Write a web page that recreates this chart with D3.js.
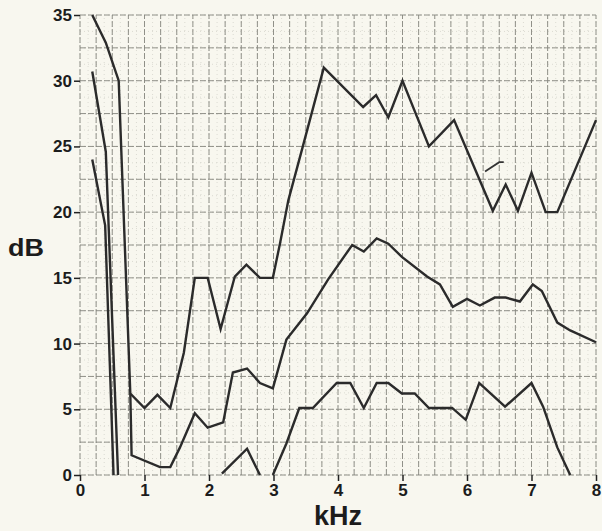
<!DOCTYPE html>
<html>
<meta charset="utf-8" />
<head>
<script src="https://cdnjs.cloudflare.com/ajax/libs/d3/7.8.5/d3.min.js"></script>
<style>
  body { margin: 0; background: #f8f7ef; }
  svg { display: block; }
</style>
</head>
<body>
<script>
// frequency (kHz) / level (dB)
const xTicks = [0, 1, 2, 3, 4, 5, 6, 7, 8];
const yTicks = [0, 5, 10, 15, 20, 25, 30, 35];

const topCurve = [
  [0.19, 35], [0.4, 32.9], [0.6, 30], [0.78, 6.2], [1.0, 5.1], [1.2, 6.1],
  [1.4, 5.1], [1.61, 9.3], [1.78, 15], [1.98, 15], [2.18, 11.1], [2.4, 15.1],
  [2.58, 16], [2.79, 15], [2.99, 15], [3.1, 17.6], [3.23, 20.9], [3.46, 25.1],
  [3.78, 31], [4.39, 28], [4.59, 28.9], [4.78, 27.2], [5.0, 30], [5.41, 25],
  [5.8, 27], [6.4, 20.1], [6.6, 22.1], [6.79, 20.1], [7.0, 23], [7.22, 20],
  [7.4, 20], [8.0, 27]
];

const midCurve = [
  [0.78, 6.2], [0.8, 1.5], [1.24, 0.6], [1.4, 0.6], [1.55, 2.1], [1.78, 4.7],
  [1.98, 3.6], [2.22, 4.0], [2.37, 7.8], [2.59, 8.1], [2.79, 7.0], [2.99, 6.6],
  [3.2, 10.3], [3.52, 12.3], [3.85, 14.9], [4.22, 17.5], [4.4, 17.0], [4.6, 18.0],
  [4.78, 17.6], [4.99, 16.6], [5.38, 15.1], [5.58, 14.5], [5.78, 12.8],
  [6.0, 13.4], [6.2, 12.9], [6.43, 13.5], [6.6, 13.5], [6.82, 13.2],
  [7.02, 14.5], [7.16, 14.0], [7.4, 11.6], [7.6, 11.0], [8.0, 10.1]
];

const lowCurveA = [[2.2, 0.1], [2.59, 2.0], [2.79, 0]];
const lowCurveB = [
  [2.99, 0], [3.2, 2.4], [3.4, 5.1], [3.61, 5.1], [3.98, 7.0], [4.19, 7.0],
  [4.4, 5.1], [4.6, 7.0], [4.78, 7.0], [4.99, 6.2], [5.19, 6.2], [5.41, 5.1],
  [5.77, 5.1], [5.98, 4.2], [6.19, 7.0], [6.59, 5.2], [7.0, 7.0], [7.18, 5.2],
  [7.4, 2.1], [7.6, 0]
];

const dropB = [[0.19, 30.7], [0.4, 24.6], [0.59, 0]];
const dropC = [[0.19, 24.0], [0.39, 19.0], [0.52, 0]];
const stray = [[6.28, 23.1], [6.5, 23.8], [6.57, 23.8]];

const width = 602, height = 531;
const margin = { left: 80, right: 6, top: 15, bottom: 56 };

const svg = d3.select("body").append("svg")
  .attr("width", width)
  .attr("height", height);

const x = d3.scaleLinear().domain([0, 8]).range([margin.left, width - margin.right]);
const y = d3.scaleLinear().domain([0, 35]).range([height - margin.bottom, margin.top]);

// graph paper: faint dotted fine lines, dashed main lines
const grid = svg.append("g");
grid.selectAll(".vfine")
  .data(d3.range(0, 8.001, 0.125))
  .enter().append("line")
  .attr("x1", d => x(d)).attr("x2", d => x(d))
  .attr("y1", y(0)).attr("y2", y(35))
  .attr("stroke", "#cfcec5")
  .attr("stroke-width", 0.7)
  .attr("stroke-dasharray", "1,3");
grid.selectAll(".hfine")
  .data(d3.range(0, 35.001, 1.25))
  .enter().append("line")
  .attr("x1", x(0)).attr("x2", x(8))
  .attr("y1", d => y(d)).attr("y2", d => y(d))
  .attr("stroke", "#cfcec5")
  .attr("stroke-width", 0.7)
  .attr("stroke-dasharray", "1,3");
grid.selectAll(".vmain")
  .data(d3.range(0, 8.001, 0.25))
  .enter().append("line")
  .attr("x1", d => x(d)).attr("x2", d => x(d))
  .attr("y1", y(0)).attr("y2", y(35))
  .attr("stroke", "#85847d")
  .attr("stroke-width", 0.9)
  .attr("stroke-dasharray", "6,2");
grid.selectAll(".hmain")
  .data(d3.range(0, 35.001, 2.5))
  .enter().append("line")
  .attr("x1", x(0)).attr("x2", x(8))
  .attr("y1", d => y(d)).attr("y2", d => y(d))
  .attr("stroke", "#85847d")
  .attr("stroke-width", 0.9)
  .attr("stroke-dasharray", "6,2");

// axes
const fontFam = "'Liberation Sans', Arial, sans-serif";
const yAxis = svg.append("g")
  .attr("transform", `translate(${margin.left},0)`)
  .call(d3.axisLeft(y).tickValues(yTicks).tickSize(6).tickPadding(2));
const xAxis = svg.append("g")
  .attr("transform", `translate(0,${y(0)})`)
  .call(d3.axisBottom(x).tickValues(xTicks).tickSize(6).tickPadding(3));
[yAxis, xAxis].forEach(a => {
  a.select(".domain").remove();
  a.selectAll("line").attr("stroke", "#222").attr("stroke-width", 1.5);
  a.selectAll("text")
    .attr("fill", "#1c1c1c")
    .style("font-family", fontFam)
    .style("font-size", "17px")
    .style("font-weight", "bold");
});

svg.append("text")
  .attr("x", 8).attr("y", 256)
  .attr("textLength", 36).attr("lengthAdjust", "spacingAndGlyphs")
  .style("font-family", fontFam)
  .style("font-size", "23px")
  .style("font-weight", "bold")
  .attr("fill", "#1c1c1c")
  .text("dB");

svg.append("text")
  .attr("x", 338).attr("y", 525)
  .attr("text-anchor", "middle")
  .style("font-family", fontFam)
  .style("font-size", "27px")
  .style("font-weight", "bold")
  .attr("fill", "#1c1c1c")
  .text("kHz");

// curves
const line = d3.line().x(d => x(d[0])).y(d => y(d[1]));
const curves = [topCurve, midCurve, lowCurveA, lowCurveB, dropB, dropC];
svg.append("g").selectAll("path")
  .data(curves)
  .enter().append("path")
  .attr("d", line)
  .attr("fill", "none")
  .attr("stroke", "#2b2b2b")
  .attr("stroke-width", 2.4)
  .attr("stroke-linejoin", "miter");

svg.append("path")
  .datum(stray)
  .attr("d", line)
  .attr("fill", "none")
  .attr("stroke", "#333")
  .attr("stroke-width", 1.8);
</script>
</body>
</html>
